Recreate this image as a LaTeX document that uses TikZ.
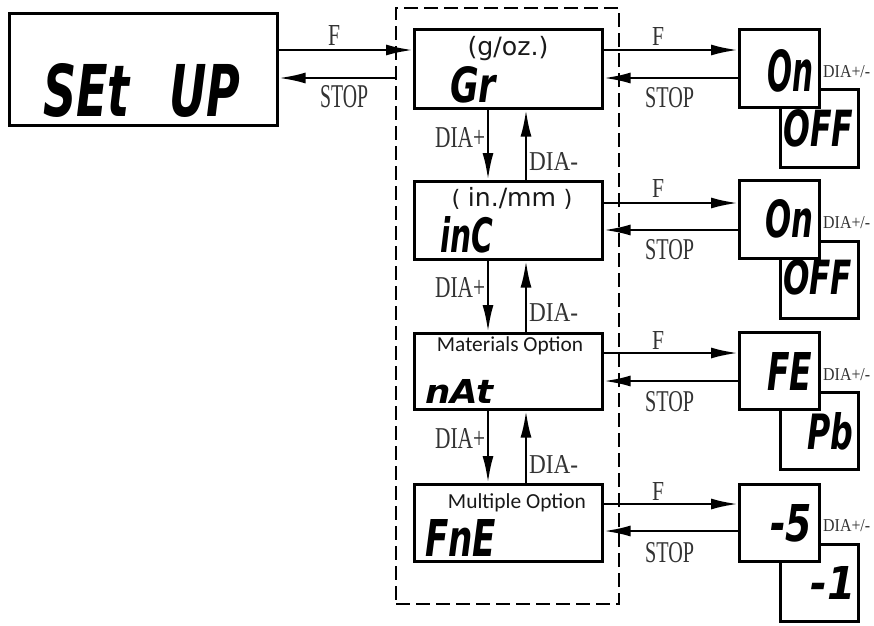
\documentclass[tikz,border=0pt]{standalone}
\usepackage{fontspec}
\setmainfont{Liberation Serif}
\newfontfamily\segf{DejaVu Sans}
\newfontfamily\calf{Carlito}
\newfontfamily\verdf{DejaVu Sans}
\usetikzlibrary{arrows.meta}
\newcommand\fitto[3]{\resizebox{#1pt}{#2pt}{#3}}
\newcommand\fitw[2]{\resizebox{#1pt}{!}{#2}}
\tikzset{
 box/.style={draw, line width=2.6pt, fill=white, inner sep=0pt, anchor=north west},
 dframe/.style={draw, line width=2.4pt, dash pattern=on 14pt off 6pt, inner sep=0pt, anchor=north west},
 arr/.style={line width=2.6pt, -{Latex[length=27pt,width=11pt]}},
 seg/.style={inner sep=0pt, anchor=south west, font=\segf\bfseries\itshape},
 lab/.style={inner sep=0pt, anchor=north west, text=black!80},
 captxt/.style={inner sep=0pt, anchor=center, text=black!90}
}
\begin{document}
\begin{tikzpicture}[x=1pt,y=-1pt]
\useasboundingbox (0,0) rectangle (874,625);
% frame and left box
\node[dframe, minimum width=223pt, minimum height=596pt] (frame) at (395,7) {};
\node[box, minimum width=268pt, minimum height=112pt] (setup) at (8,12) {};
\node[seg] (tsetup) at (43,118) {\fitto{197}{53}{SEt\hspace{0.5em} UP}};
% middle boxes
\node[box, minimum width=188pt, minimum height=79pt] (gr) at (413,28) {};
\node[box, minimum width=188pt, minimum height=78pt] (inc) at (413,180) {};
\node[box, minimum width=188pt, minimum height=76pt] (nat) at (413,332) {};
\node[box, minimum width=188pt, minimum height=77pt] (fne) at (413,483) {};
\node[captxt] (cgr) at (508,49) {\fitw{81}{\verdf (g/oz.)}};
\node[captxt] (cinc) at (512,198) {\fitw{121}{\verdf\scalebox{0.9}{(}\hspace{3pt}in./mm\hspace{3pt}\scalebox{0.9}{)}}};
\node[captxt] (cnat) at (510,346) {\fitw{146}{\calf Materials Option}};
\node[captxt] (cfne) at (517,503) {\fitw{138}{\calf Multiple Option}};
\node[seg] (tgr) at (450,103) {\fitto{46}{36}{Gr}};
\node[seg] (tinc) at (440,253) {\fitto{53}{36}{inC}};
\node[seg] (tnat) at (425,404) {\fitto{68}{24}{nAt}};
\node[seg] (tfne) at (425,557) {\fitto{71}{37}{FnE}};
% right boxes (secondary first)
\node[box, minimum width=78pt, minimum height=78pt] (off1) at (779,88) {};
\node[box, minimum width=78pt, minimum height=77pt] (off2) at (779,240) {};
\node[box, minimum width=78pt, minimum height=77pt] (pb) at (779,391) {};
\node[box, minimum width=78pt, minimum height=77pt] (m1) at (779,543) {};
\node[box, minimum width=80pt, minimum height=78pt] (on1) at (738,28) {};
\node[box, minimum width=80pt, minimum height=78pt] (on2) at (738,179) {};
\node[box, minimum width=80pt, minimum height=77pt] (fe) at (738,331) {};
\node[box, minimum width=80pt, minimum height=77pt] (m5) at (738,483) {};
\node[seg] (ton1) at (767,92) {\fitto{46}{42}{On}};
\node[seg] (toff1) at (783,147) {\fitto{70}{37}{OFF}};
\node[seg] (ton2) at (765,238) {\fitto{48}{38}{On}};
\node[seg] (toff2) at (783,295) {\fitto{69}{35}{OFF}};
\node[seg] (tfe) at (767,391) {\fitto{45}{38}{FE}};
\node[seg] (tpb) at (807,450) {\fitto{46}{37}{Pb}};
\node[seg] (tm5) at (770,542) {\fitto{42}{37}{-5}};
\node[seg] (tm1) at (810,600) {\fitto{45}{33}{-1}};
% DIA+/- labels
\node[lab] (d1) at (823,65) {\fitto{47}{12}{DIA+/-}};
\node[lab] (d2) at (823,216) {\fitto{47}{12}{DIA+/-}};
\node[lab] (d3) at (823,368) {\fitto{47}{12}{DIA+/-}};
\node[lab] (d4) at (823,519) {\fitto{47}{12}{DIA+/-}};
% left arrows
\draw[arr] (setup.east |- 0,50) -- (gr.west |- 0,50);
\draw[arr] (frame.west |- 0,78) -- (setup.east |- 0,78);
\node[lab] (lf0) at (328,25) {\fitto{12}{20}{F}};
\node[lab] (ls0) at (320,85) {\fitto{48}{22}{STOP}};
% right arrows
\draw[arr] (gr.east |- 0,50) -- (on1.west |- 0,50);
\draw[arr] (on1.west |- 0,78) -- (gr.east |- 0,78);
\draw[arr] (inc.east |- 0,203) -- (on2.west |- 0,203);
\draw[arr] (on2.west |- 0,230) -- (inc.east |- 0,230);
\draw[arr] (nat.east |- 0,353) -- (fe.west |- 0,353);
\draw[arr] (fe.west |- 0,381) -- (nat.east |- 0,381);
\draw[arr] (fne.east |- 0,504) -- (m5.west |- 0,504);
\draw[arr] (m5.west |- 0,531) -- (fne.east |- 0,531);
\node[lab] (lf1) at (652,27) {\fitto{12}{18}{F}};
\node[lab] (ls1) at (645,87) {\fitto{49}{20}{STOP}};
\node[lab] (lf2) at (652,179) {\fitto{12}{18}{F}};
\node[lab] (ls2) at (645,239) {\fitto{49}{20}{STOP}};
\node[lab] (lf3) at (652,331) {\fitto{12}{18}{F}};
\node[lab] (ls3) at (645,391) {\fitto{49}{20}{STOP}};
\node[lab] (lf4) at (652,482) {\fitto{12}{18}{F}};
\node[lab] (ls4) at (645,542) {\fitto{49}{20}{STOP}};
% vertical arrows
\draw[arr] (gr.south -| 488,0) -- (inc.north -| 488,0);
\draw[arr] (inc.north -| 526,0) -- (gr.south -| 526,0);
\draw[arr] (inc.south -| 488,0) -- (nat.north -| 488,0);
\draw[arr] (nat.north -| 526,0) -- (inc.south -| 526,0);
\draw[arr] (nat.south -| 488,0) -- (fne.north -| 488,0);
\draw[arr] (fne.north -| 526,0) -- (nat.south -| 526,0);
\node[lab] (dp1) at (435,127) {\fitto{50}{20}{DIA+}};
\node[lab] (dm1) at (529,152) {\fitto{49}{18}{DIA-}};
\node[lab] (dp2) at (435,277) {\fitto{50}{20}{DIA+}};
\node[lab] (dm2) at (529,303) {\fitto{49}{18}{DIA-}};
\node[lab] (dp3) at (435,428) {\fitto{50}{20}{DIA+}};
\node[lab] (dm3) at (529,455) {\fitto{49}{18}{DIA-}};
\end{tikzpicture}
\end{document}
